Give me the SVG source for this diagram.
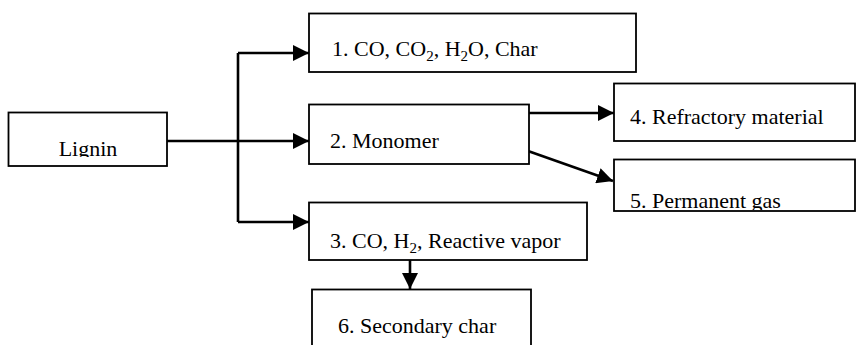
<svg xmlns="http://www.w3.org/2000/svg" width="858" height="345" viewBox="0 0 858 345">
<style>
.box{fill:#fff;stroke:#000;stroke-width:1.8}
.t{font-family:"Liberation Serif","Times New Roman",serif;font-size:22px;fill:#000}
.c{fill:none;stroke:#000;stroke-width:2.6}
</style>
<defs>
<marker id="ah" markerUnits="userSpaceOnUse" markerWidth="18" markerHeight="16" refX="16" refY="8" orient="auto">
<path d="M0,0 L16,8 L0,16 Z" fill="#000"/>
</marker>
<clipPath id="clipL"><rect x="8" y="112" width="160" height="45"/></clipPath>
<clipPath id="clip5"><rect x="614" y="159" width="242" height="51"/></clipPath>
</defs>
<rect width="858" height="345" fill="#fff"/>
<g id="connectors">
<path class="c" d="M167,141 H238" stroke-width="3.2"/>
<path class="c" d="M238,141 H309" marker-end="url(#ah)"/>
<path class="c" d="M238,53 V222"/>
<path class="c" d="M238,53 H309" marker-end="url(#ah)"/>
<path class="c" d="M238,222 H309" marker-end="url(#ah)"/>
<path class="c" d="M529,113 H614" marker-end="url(#ah)"/>
<path class="c" d="M528,151 L613,181" marker-end="url(#ah)"/>
<path class="c" d="M410,260 V289" marker-end="url(#ah)"/>
</g>
<g id="lignin">
<rect class="box" x="8.5" y="112.5" width="158.5" height="53.5"/>
<text class="t" x="88" y="156" text-anchor="middle" clip-path="url(#clipL)">Lignin</text>
</g>
<g id="n1">
<rect class="box" x="309" y="13.5" width="327" height="58.5"/>
<text class="t" x="332" y="56">1. CO, CO<tspan font-size="15" dy="5">2</tspan><tspan dy="-5">, H</tspan><tspan font-size="15" dy="5">2</tspan><tspan dy="-5">O, Char</tspan></text>
</g>
<g id="n2">
<rect class="box" x="309" y="104.5" width="220" height="59.5"/>
<text class="t" x="330" y="148">2. Monomer</text>
</g>
<g id="n3">
<rect class="box" x="309" y="202.5" width="278" height="57.5"/>
<text class="t" x="330" y="248">3. CO, H<tspan font-size="15" dy="5">2</tspan><tspan dy="-5">, Reactive vapor</tspan></text>
</g>
<g id="n4">
<rect class="box" x="614" y="83.5" width="241" height="57.5"/>
<text class="t" x="630" y="124">4. Refractory material</text>
</g>
<g id="n5">
<rect class="box" x="614" y="159.5" width="241" height="51.5"/>
<text class="t" x="630" y="208" clip-path="url(#clip5)">5. Permanent gas</text>
</g>
<g id="n6">
<rect class="box" x="312" y="289.5" width="219" height="60"/>
<text class="t" x="338" y="333">6. Secondary char</text>
</g>
</svg>
